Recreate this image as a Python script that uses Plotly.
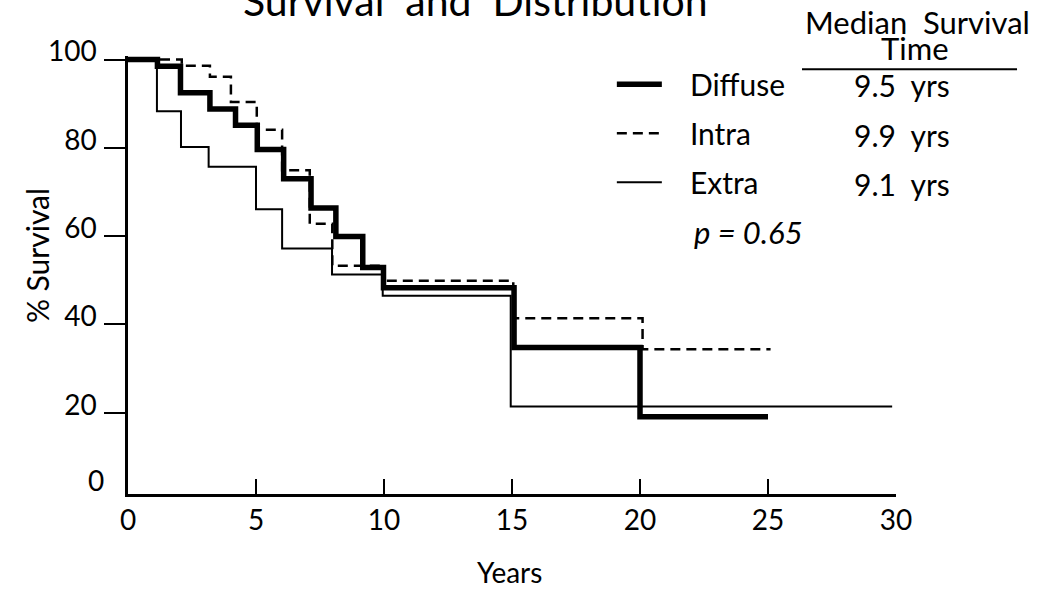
import plotly.graph_objects as go

# ---- data ----
diffuse_t = [0, 1.15, 2.05, 3.2, 4.2, 5.05, 6.08, 7.15, 8.12, 9.17, 9.98, 15.08, 20.0, 25.0]
diffuse_v = [100, 98.5, 92.5, 88.8, 85.1, 79.6, 73.0, 66.4, 59.9, 52.9, 48.3, 34.8, 19.1, 19.1]

intra_t = [0, 2.1, 3.2, 4.02, 5.03, 6.02, 7.1, 7.98, 9.98, 15.05, 20.1, 25.1]
intra_v = [100, 98.6, 96.1, 90.4, 84.1, 74.9, 62.8, 53.3, 49.9, 41.4, 34.4, 34.4]

extra_t = [0, 1.13, 2.07, 3.15, 5.0, 6.02, 7.97, 9.95, 14.95, 29.85]
extra_v = [100, 88.3, 80.2, 75.7, 66.1, 57.2, 51.3, 46.5, 21.4, 21.4]

series_names = ["Diffuse", "Intra", "Extra"]
median_times = ["9.5  yrs", "9.9  yrs", "9.1  yrs"]
x_ticks = [0, 5, 10, 15, 20, 25, 30]
y_ticks = [20, 40, 60, 80, 100]

FONT = "Lato"
PAD = "   "  # gap between legend key and label, as in the reference

fig = go.Figure()
fig.add_trace(go.Scatter(x=diffuse_t, y=diffuse_v, mode="lines", name=PAD + series_names[0],
                         legendgroup="a", line=dict(shape="hv", color="black", width=5.5)))
fig.add_trace(go.Scatter(x=intra_t, y=intra_v, mode="lines", name=PAD + series_names[1],
                         legendgroup="b", line=dict(shape="hv", color="black", width=2.5, dash="10px,6px")))
fig.add_trace(go.Scatter(x=extra_t, y=extra_v, mode="lines", name=PAD + series_names[2],
                         legendgroup="c", line=dict(shape="hv", color="black", width=2)))

ann = []
# median survival column
ypos = [0.9334, 0.8193, 0.7074]
for txt, yy in zip(median_times, ypos):
    ann.append(dict(text=txt, xref="paper", yref="paper", x=0.9427, y=yy,
                    xanchor="left", yanchor="middle", showarrow=False,
                    font=dict(size=30, family=FONT, color="black")))
ann.append(dict(text="Median  Survival", xref="paper", yref="paper", x=1.0286, y=1.0771,
                xanchor="center", yanchor="middle", showarrow=False,
                font=dict(size=31, family=FONT, color="black")))
ann.append(dict(text="Time", xref="paper", yref="paper", x=1.0247, y=1.0178,
                xanchor="center", yanchor="middle", showarrow=False,
                font=dict(size=31, family=FONT, color="black")))
ann.append(dict(text="<i>p = 0.65</i>", xref="paper", yref="paper", x=0.7344, y=0.5979,
                xanchor="left", yanchor="middle", showarrow=False,
                font=dict(size=31, family=FONT, color="black")))
# title (cut off at top as in the reference)
ann.append(dict(text="Survival  and  Distribution", xref="paper", yref="paper", x=0.453, y=1.066,
                xanchor="center", yanchor="bottom", showarrow=False,
                font=dict(size=41, family=FONT, color="black")))
# axis titles
ann.append(dict(text="% Survival", xref="paper", yref="paper", x=-0.1185, y=0.5454,
                xanchor="center", yanchor="middle", textangle=-90, showarrow=False,
                font=dict(size=30, family=FONT, color="black")))
ann.append(dict(text="Years", xref="paper", yref="paper", x=0.497, y=-0.178,
                xanchor="center", yanchor="middle", showarrow=False,
                font=dict(size=28, family=FONT, color="black")))
# y "0" label (no tick mark in reference)
ann.append(dict(text="0", xref="paper", yref="y", x=0, y=4.75, xshift=-22,
                xanchor="right", yanchor="middle", showarrow=False,
                font=dict(size=28, family=FONT, color="black")))

fig.update_layout(
    width=1047, height=592,
    margin=dict(l=128, r=151, t=56, b=98, autoexpand=False),
    paper_bgcolor="white", plot_bgcolor="white",
    font=dict(family=FONT, color="black", size=28),
    showlegend=True,
    legend=dict(x=0.630, y=0.995, xanchor="left", yanchor="top",
                bgcolor="rgba(0,0,0,0)", font=dict(size=30, family=FONT),
                tracegroupgap=7, traceorder="grouped", itemwidth=45),
    annotations=ann,
    shapes=[dict(type="line", xref="paper", yref="paper", x0=0.8776, x1=1.1576,
                 y0=0.9699, y1=0.9699, line=dict(color="black", width=2))],
)
fig.update_xaxes(range=[0, 30], tickvals=x_ticks, ticks="inside", ticklen=15, tickwidth=1.5,
                 tickcolor="black", showline=True, linecolor="black", linewidth=2.5,
                 showgrid=False, zeroline=False, tickfont=dict(size=28, family=FONT))
fig.update_yaxes(range=[1.6, 100.8], tickvals=y_ticks, ticks="outside", ticklen=21, tickwidth=2,
                 tickcolor="black", showline=True, linecolor="black", linewidth=2.5,
                 showgrid=False, zeroline=False, tickfont=dict(size=28, family=FONT),
                 ticklabelshift=-8, ticklabelstandoff=2)

fig.write_html("out.html", config={"displayModeBar": False},
               post_script="document.body.style.margin='0px';")
